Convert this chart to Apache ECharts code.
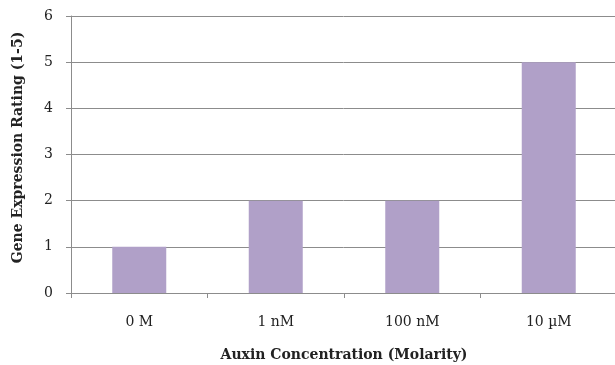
<!DOCTYPE html>
<html>
<head>
<meta charset="utf-8">
<script src="https://cdn.jsdelivr.net/npm/echarts@6/dist/echarts.min.js"></script>
<style>html,body{margin:0;padding:0;background:#fff}#c{width:615px;height:365px}</style>
</head>
<body>
<div id="c"></div>
<script>
var categories = ['0 M', '1 nM', '100 nM', '10 \u00b5M'];
var values = [1, 2, 2, 5];
var yTicks = [0, 1, 2, 3, 4, 5, 6];

var FONT = '"DejaVu Serif", serif';
var chart = echarts.init(document.getElementById('c'), null, {renderer: 'canvas'});
chart.setOption({
  animation: false,
  grid: {left: 71, top: 16, width: 546, height: 277, containLabel: false, outerBoundsMode: 'none'},
  xAxis: {
    type: 'category',
    data: categories,
    name: 'Auxin Concentration (Molarity)',
    nameLocation: 'middle',
    nameGap: 55,
    nameTextStyle: {fontFamily: FONT, fontWeight: 'bold', fontSize: 14, color: '#222'},
    axisLine: {lineStyle: {color: '#8c8c8c', width: 1}},
    axisTick: {show: true, length: 5, lineStyle: {color: '#8c8c8c'}},
    axisLabel: {fontFamily: FONT, fontSize: 14, color: '#222', margin: 22},
    splitLine: {show: false}
  },
  yAxis: {
    type: 'value',
    min: yTicks[0],
    max: yTicks[yTicks.length - 1],
    interval: 1,
    name: 'Gene Expression Rating (1-5)',
    nameLocation: 'middle',
    nameGap: 46,
    nameTextStyle: {fontFamily: FONT, fontWeight: 'bold', fontSize: 14, color: '#222', padding: [0, 0, 0, 14]},
    axisLine: {show: true, lineStyle: {color: '#8c8c8c', width: 1}},
    axisTick: {show: true, length: 5, lineStyle: {color: '#8c8c8c'}},
    axisLabel: {fontFamily: FONT, fontSize: 14, color: '#222', margin: 18},
    splitLine: {show: true, lineStyle: {color: '#8c8c8c', width: 1}}
  },
  series: [{
    type: 'bar',
    data: values,
    barWidth: 54,
    itemStyle: {color: '#b0a0c8'}
  }]
});
</script>
</body>
</html>
